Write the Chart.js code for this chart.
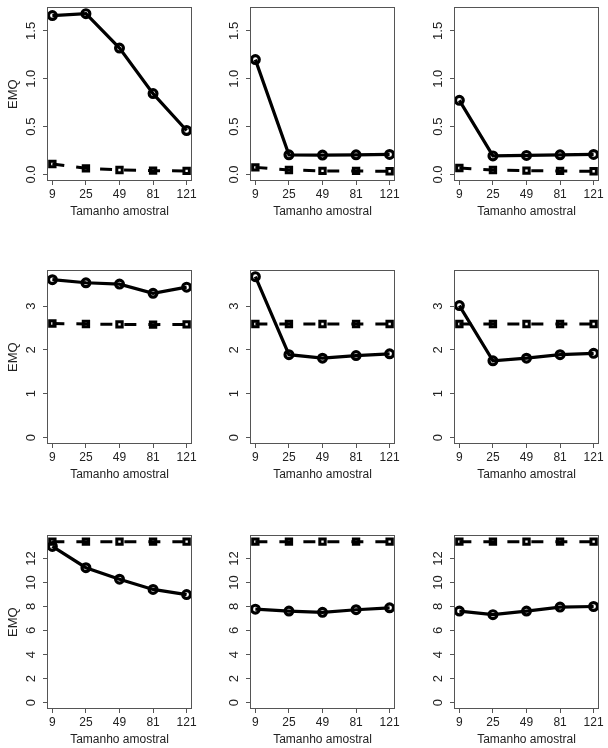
<!DOCTYPE html>
<html><head><meta charset="utf-8">
<script src="https://cdn.jsdelivr.net/npm/chart.js@4/dist/chart.umd.min.js"></script>
<style>
html,body{margin:0;padding:0;background:#fff;width:608px;height:748px;overflow:hidden;position:relative}
canvas{position:absolute}
</style></head><body>
<script>
// ---- data ----
const sampleSizes = ["9", "25", "49", "81", "121"];
const yTicksRow1 = [0, 0.5, 1.0, 1.5];
const yLabelsRow1 = ["0.0", "0.5", "1.0", "1.5"];
const yTicksRow2 = [0, 1, 2, 3];
const yLabelsRow2 = ["0", "1", "2", "3"];
const yTicksRow3 = [0, 2, 4, 6, 8, 10, 12];
const yLabelsRow3 = ["0", "2", "4", "6", "8", "10", "12"];

const p1Circle = [1.66, 1.68, 1.32, 0.845, 0.46];
const p1Square = [0.11, 0.065, 0.048, 0.041, 0.038];
const p2Circle = [1.20, 0.206, 0.203, 0.206, 0.21];
const p2Square = [0.075, 0.048, 0.038, 0.038, 0.034];
const p3Circle = [0.775, 0.195, 0.20, 0.206, 0.21];
const p3Square = [0.069, 0.048, 0.041, 0.038, 0.034];
const p4Circle = [3.60, 3.53, 3.50, 3.29, 3.43];
const p4Square = [2.60, 2.59, 2.58, 2.575, 2.58];
const p5Circle = [3.67, 1.89, 1.81, 1.87, 1.91];
const p5Square = [2.59, 2.59, 2.59, 2.59, 2.59];
const p6Circle = [3.01, 1.75, 1.81, 1.89, 1.92];
const p6Square = [2.59, 2.59, 2.59, 2.59, 2.59];
const p7Circle = [13.0, 11.23, 10.27, 9.42, 8.99];
const p7Square = [13.4, 13.4, 13.4, 13.4, 13.4];
const p8Circle = [7.78, 7.62, 7.51, 7.73, 7.89];
const p8Square = [13.4, 13.4, 13.4, 13.4, 13.4];
const p9Circle = [7.62, 7.32, 7.62, 7.95, 8.0];
const p9Square = [13.4, 13.4, 13.4, 13.4, 13.4];

const yTitle = "EMQ";
const xTitle = "Tamanho amostral";

// ---- layout ----
const FONT = '"Liberation Sans", Arial, Helvetica, sans-serif';
const TEXT = '#222';
const BOX = '#555';
const colLefts = [0, 203, 407];
const rowTops = [0, 263, 528];
const CW = 203, CH = 221;

const rows = [
  {ticks: yTicksRow1, labels: yLabelsRow1, panels: [[p1Circle, p1Square], [p2Circle, p2Square], [p3Circle, p3Square]]},
  {ticks: yTicksRow2, labels: yLabelsRow2, panels: [[p4Circle, p4Square], [p5Circle, p5Square], [p6Circle, p6Square]]},
  {ticks: yTicksRow3, labels: yLabelsRow3, panels: [[p7Circle, p7Square], [p8Circle, p8Square], [p9Circle, p9Square]]}
];

const rBox = {
  id: 'rbox',
  afterDraw(chart, args, opts) {
    const {ctx, chartArea: ca, scales} = chart;
    ctx.save();
    ctx.strokeStyle = BOX; ctx.lineWidth = 1;
    const l = Math.round(ca.left) + 0.5, t = Math.round(ca.top) + 0.5;
    const r = Math.round(ca.right) - 0.5, b = Math.round(ca.bottom) - 0.5;
    ctx.strokeRect(l, t, r - l, b - t);
    ctx.fillStyle = TEXT;
    ctx.font = '13px ' + FONT;
    ctx.textAlign = 'center';
    ctx.textBaseline = 'middle';
    const ys = scales.y;
    opts.ticks.forEach((v, i) => {
      const y = ys.getPixelForValue(v);
      ctx.save();
      ctx.translate(ca.left - 15.5, y);
      ctx.rotate(-Math.PI / 2);
      ctx.fillText(opts.labels[i], 0, 0);
      ctx.restore();
    });
    ctx.restore();
  }
};

rows.forEach((row, ri) => {
  const all = row.panels.flat(2);
  const rmax = Math.max(...all);
  row.panels.forEach((pair, ci) => {
    const cv = document.createElement('canvas');
    cv.width = CW; cv.height = CH;
    cv.style.left = colLefts[ci] + 'px';
    cv.style.top = rowTops[ri] + 'px';
    document.body.appendChild(cv);
    const toPts = arr => sampleSizes.map((_, i) => ({x: i + 1, y: arr[i]}));
    new Chart(cv, {
      type: 'line',
      data: {
        datasets: [
          {data: toPts(pair[0]), borderColor: '#000', borderWidth: 3.2, tension: 0,
           pointStyle: 'circle', pointRadius: 3.9, pointBorderWidth: 3.2,
           pointBackgroundColor: 'rgba(0,0,0,0)', pointBorderColor: '#000', fill: false},
          {data: toPts(pair[1]), borderColor: '#000', borderWidth: 3, borderDash: [12, 12], tension: 0,
           pointStyle: 'rect', pointRadius: 3.8, pointBorderWidth: 3,
           pointBackgroundColor: 'rgba(0,0,0,0)', pointBorderColor: '#000', fill: false}
        ]
      },
      options: {
        responsive: false, animation: false, devicePixelRatio: 1,
        layout: {padding: {top: 4, right: 11, left: 0, bottom: 0}},
        plugins: {legend: {display: false}, tooltip: {enabled: false},
                  rbox: {ticks: row.ticks, labels: row.labels}},
        scales: {
          x: {
            type: 'linear', min: 0.84, max: 5.16,
            afterBuildTicks: s => { s.ticks = sampleSizes.map((_, i) => ({value: i + 1})); },
            afterFit: s => { s.height = 40; },
            grid: {drawOnChartArea: false, drawTicks: true, tickLength: 4, color: BOX, lineWidth: 1},
            border: {display: false},
            ticks: {autoSkip: false, maxRotation: 0, padding: 2, color: TEXT, font: {size: 12, family: FONT},
                    callback: v => sampleSizes[Math.round(v) - 1]},
            title: {display: true, text: xTitle, color: TEXT, font: {size: 12, family: FONT}, padding: {top: 0, bottom: 2}}
          },
          y: {
            type: 'linear', min: -0.04 * rmax, max: 1.04 * rmax,
            afterBuildTicks: s => { s.ticks = row.ticks.map(v => ({value: v})); },
            afterFit: s => { s.width = 47; },
            grid: {drawOnChartArea: false, drawTicks: true, tickLength: 4, color: BOX, lineWidth: 1},
            border: {display: false},
            ticks: {display: false},
            title: {display: ci === 0, text: yTitle, color: TEXT, font: {size: 13, family: FONT}, padding: {top: 5.5, bottom: 0}}
          }
        }
      },
      plugins: [rBox]
    });
  });
});
</script>
</body></html>
